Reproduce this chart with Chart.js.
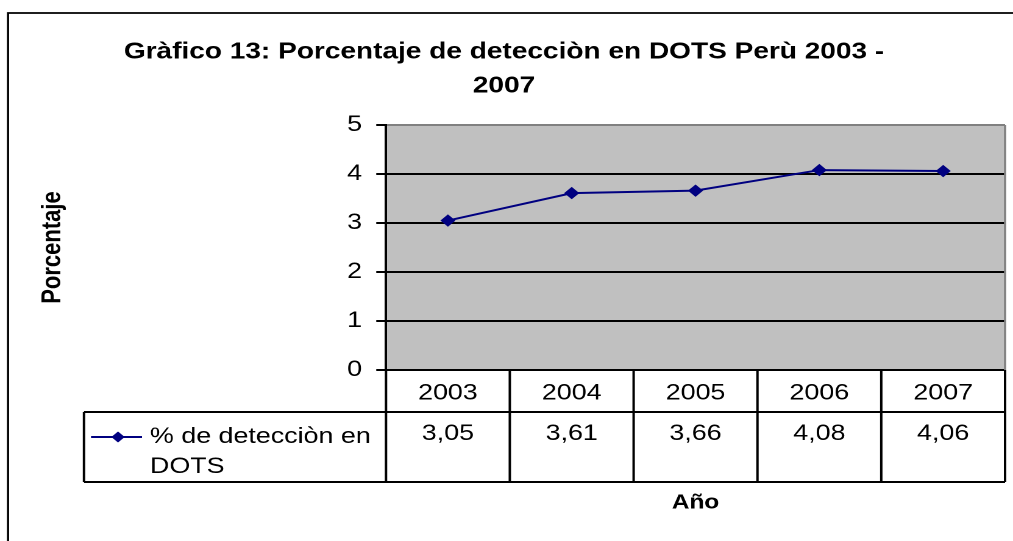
<!DOCTYPE html>
<html><head><meta charset="utf-8">
<script src="https://cdn.jsdelivr.net/npm/chart.js@4.4.0/dist/chart.umd.min.js"></script>
<style>
html,body{margin:0;padding:0;background:#fff;overflow:hidden;}
#wrap{position:absolute;left:0;top:0;width:831px;height:541px;transform:scaleX(1.21901);transform-origin:0 0;}
</style></head><body>
<div id="wrap"><canvas id="c"></canvas></div>
<script>
// ---- data ----
const categories = ['2003', '2004', '2005', '2006', '2007'];
const detectionValues = [3.05, 3.61, 3.66, 4.08, 4.06];
const seriesLabelLines = ['% de detecciòn en', 'DOTS'];
const yTicks = [0, 1, 2, 3, 4, 5];
const titleLines = ['Gràfico 13: Porcentaje de detecciòn en DOTS Perù 2003 -', '2007'];
const yTitle = 'Porcentaje';
const xTitle = 'Año';

// ---- layout (logical px, canvas is stretched horizontally by CSS) ----
const FONT = '"Liberation Sans", Arial, sans-serif';
const PLOT_LEFT = 316.65, PLOT_BOTTOM = 370, RIGHT_PAD = 4.1;
const TABLE_MID = 412, TABLE_BOTTOM = 482, LEGEND_LEFT = 68.9;
const LINE_COLOR = '#000080';

function fmt(v){ return v.toFixed(2).replace('.', ','); }

function diamond(ctx, x, y, r){
  ctx.beginPath();
  ctx.moveTo(x, y - r); ctx.lineTo(x + r, y); ctx.lineTo(x, y + r); ctx.lineTo(x - r, y);
  ctx.closePath(); ctx.fill();
}

const tablePlugin = {
  id: 'tablePlugin',
  beforeDraw(chart){
    const {ctx, chartArea: a, width, height} = chart;
    ctx.save();
    ctx.fillStyle = '#ffffff'; ctx.fillRect(0, 0, width, height);
    ctx.fillStyle = '#C0C0C0'; ctx.fillRect(a.left, a.top, a.right - a.left, a.bottom - a.top);
    // outer frame
    ctx.strokeStyle = '#000'; ctx.lineWidth = 1.8;
    ctx.beginPath(); ctx.moveTo(6.56, height + 5); ctx.lineTo(6.56, 13); ctx.lineTo(width + 5, 13); ctx.stroke();
    ctx.restore();
  },
  afterDraw(chart){
    const {ctx, chartArea: a} = chart;
    const xs = chart.scales.x;
    const n = categories.length;
    const colW = (a.right - a.left) / n;
    ctx.save();
    // plot right border (gray)
    ctx.strokeStyle = '#808080'; ctx.lineWidth = 1.8;
    ctx.beginPath(); ctx.moveTo(a.right, a.top); ctx.lineTo(a.right, a.bottom); ctx.stroke();
    // table lines
    ctx.strokeStyle = '#000'; ctx.lineWidth = 2;
    ctx.beginPath();
    ctx.moveTo(LEGEND_LEFT, TABLE_MID); ctx.lineTo(a.right, TABLE_MID);
    ctx.moveTo(LEGEND_LEFT, TABLE_BOTTOM); ctx.lineTo(a.right, TABLE_BOTTOM);
    ctx.moveTo(LEGEND_LEFT, TABLE_MID); ctx.lineTo(LEGEND_LEFT, TABLE_BOTTOM);
    for (let i = 0; i < n; i++) {
      const cx = xs.getPixelForValue(i);
      const l = cx - colW / 2, r = cx + colW / 2;
      ctx.moveTo(l, a.bottom); ctx.lineTo(l, TABLE_BOTTOM);
      if (i === n - 1) { ctx.moveTo(r, a.bottom); ctx.lineTo(r, TABLE_BOTTOM); }
    }
    ctx.stroke();
    // values
    ctx.fillStyle = '#000';
    ctx.font = '22px ' + FONT;
    ctx.textAlign = 'center'; ctx.textBaseline = 'middle';
    detectionValues.forEach((v, i) => {
      ctx.fillText(fmt(v), xs.getPixelForValue(i), 434);
    });
    // legend key
    ctx.strokeStyle = LINE_COLOR; ctx.lineWidth = 2;
    ctx.beginPath(); ctx.moveTo(74.65, 437); ctx.lineTo(116.5, 437); ctx.stroke();
    ctx.fillStyle = LINE_COLOR; diamond(ctx, 96.8, 437, 5.5);
    ctx.fillStyle = '#000'; ctx.textAlign = 'left';
    ctx.fillText(seriesLabelLines[0], 123.05, 437);
    ctx.fillText(seriesLabelLines[1], 123.05, 467);
    ctx.restore();
  }
};

new Chart(document.getElementById('c'), {
  type: 'line',
  data: {
    labels: categories,
    datasets: [{
      label: seriesLabelLines.join(' '),
      data: detectionValues,
      borderColor: LINE_COLOR,
      backgroundColor: LINE_COLOR,
      borderWidth: 2,
      tension: 0,
      pointStyle: 'rectRot',
      pointRadius: 5.5,
      pointHoverRadius: 5.5,
      pointBackgroundColor: LINE_COLOR,
      pointBorderColor: LINE_COLOR,
      pointBorderWidth: 1,
      clip: false
    }]
  },
  options: {
    responsive: true,
    maintainAspectRatio: false,
    animation: false,
    devicePixelRatio: 2,
    events: [],
    layout: { padding: { left: 0, right: RIGHT_PAD, top: 0, bottom: 0 } },
    plugins: {
      legend: { display: false },
      tooltip: { enabled: false },
      title: {
        display: true,
        text: titleLines,
        color: '#000',
        font: { family: FONT, size: 23, weight: 'bold', lineHeight: 1.478 },
        padding: { top: 35, bottom: 22 }
      }
    },
    scales: {
      x: {
        type: 'category',
        offset: true,
        grid: { display: false, drawTicks: false },
        border: { display: true, color: '#000', width: 2 },
        ticks: { color: '#000', font: { family: FONT, size: 22 }, padding: 10, maxRotation: 0, autoSkip: false },
        title: { display: true, text: xTitle, color: '#000', font: { family: FONT, size: 20, weight: 'bold', lineHeight: 1.2 }, padding: { top: 0, bottom: 26 } },
        afterFit(scale){ scale.height = 541 - PLOT_BOTTOM; }
      },
      y: {
        min: 0, max: 5,
        afterBuildTicks(scale){ scale.ticks = yTicks.map(v => ({ value: v })); },
        grid: {
          color: (c) => (c.tick && c.tick.value === 5) ? '#808080' : '#000',
          lineWidth: 2,
          drawTicks: true, tickLength: 8, tickColor: '#000', tickWidth: 2
        },
        border: { display: true, color: '#000', width: 2 },
        ticks: { color: '#000', font: { family: FONT, size: 22 }, padding: 11.65 },
        title: { display: true, text: yTitle, color: '#000', font: { family: FONT, size: 22, weight: 'bold', lineHeight: 1.2 }, padding: { top: 30.3, bottom: 0 } },
        afterFit(scale){ scale.width = PLOT_LEFT; }
      }
    }
  },
  plugins: [tablePlugin]
});
</script>
</body></html>
